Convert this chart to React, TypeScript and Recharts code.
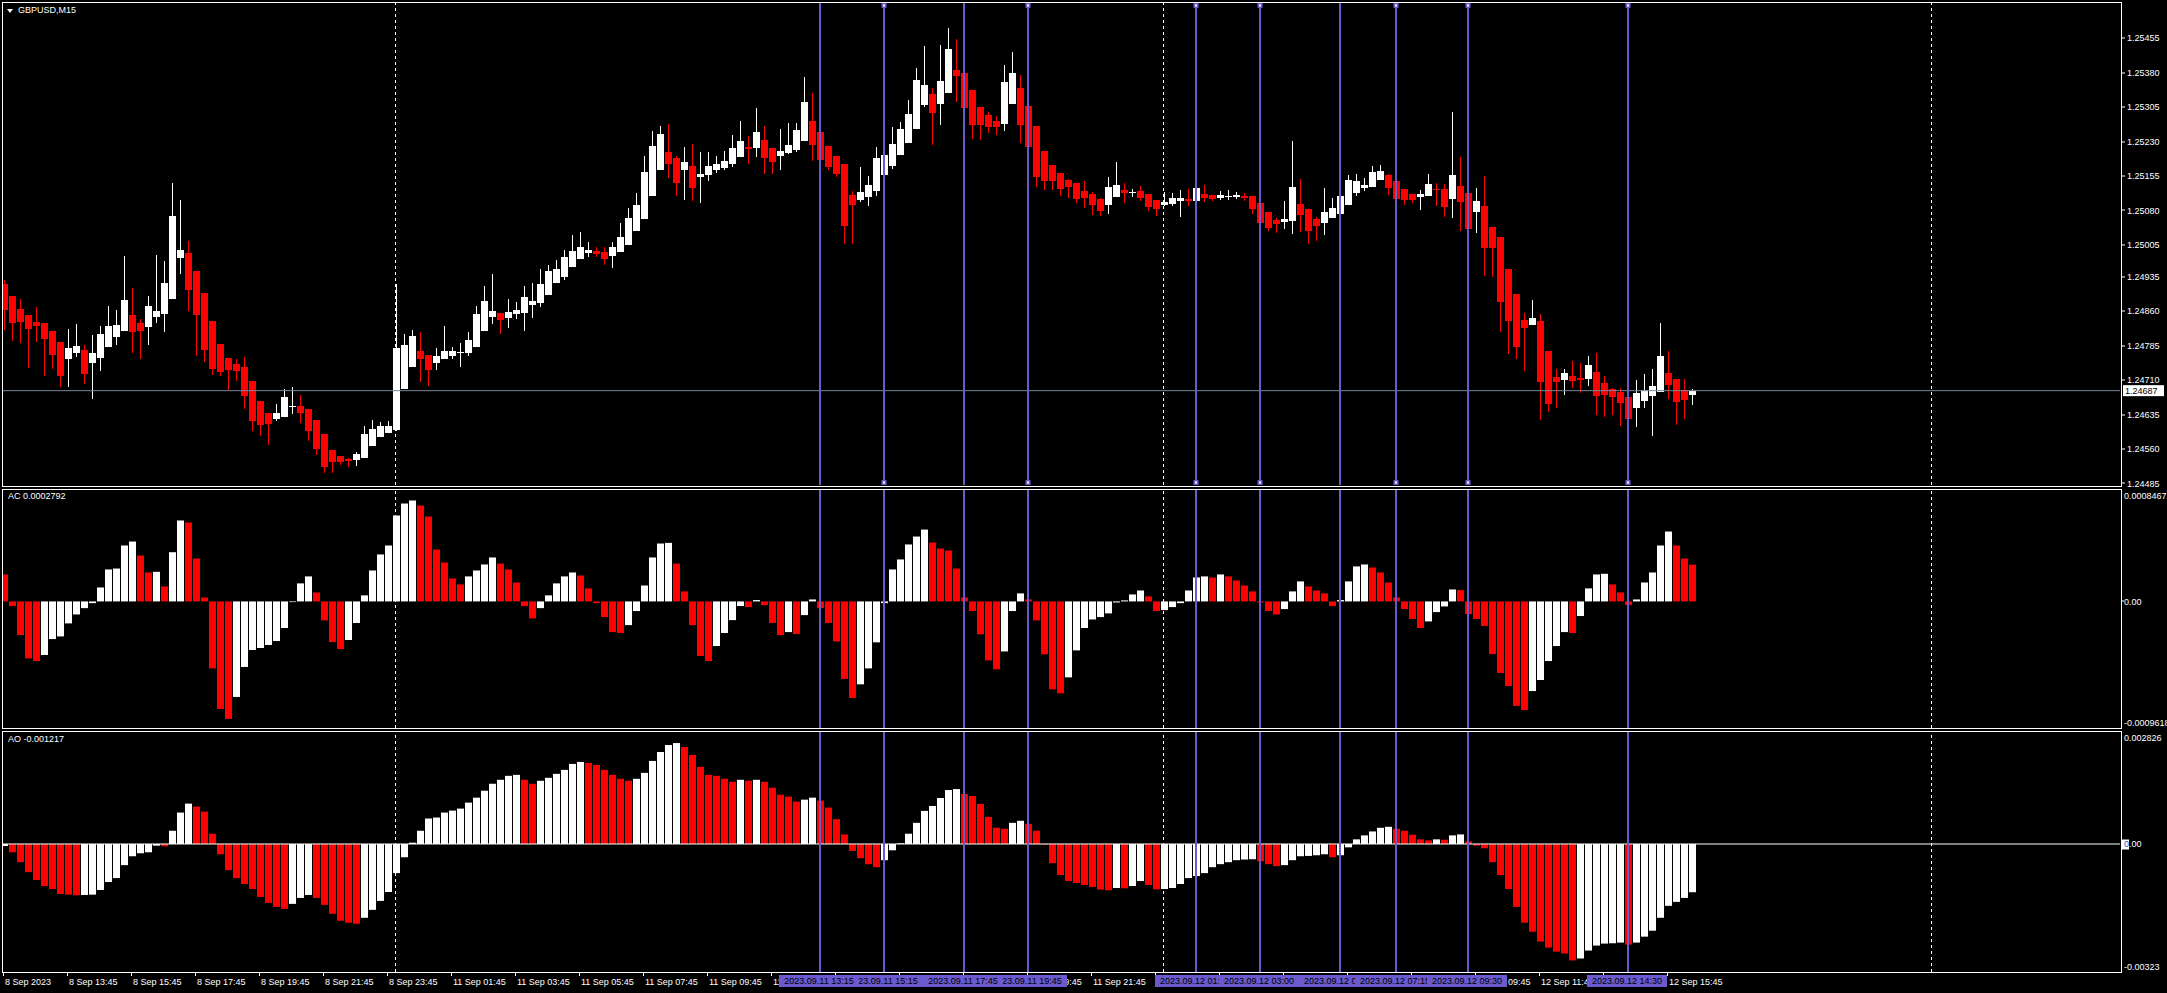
import React from "react";
import { ComposedChart, Bar, XAxis, YAxis, ReferenceLine, Cell } from "recharts";

// ---------------- data ----------------
const OPEN = [
  1.24920, 1.24893, 1.24865, 1.24852, 1.24837, 1.24835, 1.24817, 1.24793, 1.24757, 1.24768,
  1.24776, 1.24748, 1.24759, 1.24783, 1.24805, 1.24817, 1.24852, 1.24835, 1.24826, 1.24848,
  1.24854, 1.24887, 1.24976, 1.24987, 1.24948, 1.24900, 1.24839, 1.24789, 1.24758, 1.24745,
  1.24739, 1.24708, 1.24665, 1.24638, 1.24626, 1.24630, 1.24652, 1.24654, 1.24647, 1.24623,
  1.24593, 1.24558, 1.24545, 1.24538, 1.24536, 1.24541, 1.24566, 1.24585, 1.24595, 1.24601,
  1.24691, 1.24739, 1.24774, 1.24765, 1.24748, 1.24755, 1.24763, 1.24769, 1.24768, 1.24783,
  1.24818, 1.24848, 1.24856, 1.24846, 1.24853, 1.24856, 1.24874, 1.24877, 1.24896, 1.24922,
  1.24935, 1.24957, 1.24973, 1.24986, 1.24991, 1.24989, 1.24981, 1.24990, 1.25005, 1.25034,
  1.25062, 1.25112, 1.25167, 1.25207, 1.25194, 1.25167, 1.25177, 1.25153, 1.25156, 1.25167,
  1.25173, 1.25180, 1.25197, 1.25217, 1.25215, 1.25233, 1.25216, 1.25199, 1.25204, 1.25212,
  1.25232, 1.25275, 1.25251, 1.25220, 1.25199, 1.25181, 1.25114, 1.25103, 1.25109, 1.25123,
  1.25157, 1.25177, 1.25201, 1.25227, 1.25257, 1.25310, 1.25334, 1.25312, 1.25336, 1.25386,
  1.25379, 1.25342, 1.25305, 1.25288, 1.25275, 1.25268, 1.25312, 1.25347, 1.25308, 1.25264,
  1.25209, 1.25179, 1.25161, 1.25146, 1.25140, 1.25122, 1.25116, 1.25105, 1.25092, 1.25109,
  1.25124, 1.25119, 1.25122, 1.25116, 1.25103, 1.25092, 1.25094, 1.25101, 1.25105, 1.25100,
  1.25116, 1.25114, 1.25107, 1.25110, 1.25109, 1.25111, 1.25111, 1.25096, 1.25076, 1.25059,
  1.25055, 1.25057, 1.25094, 1.25083, 1.25061, 1.25053, 1.25063, 1.25072, 1.25092, 1.25118,
  1.25129, 1.25131, 1.25146, 1.25157, 1.25144, 1.25127, 1.25116, 1.25109, 1.25111, 1.25127,
  1.25127, 1.25105, 1.25133, 1.25118, 1.25076, 1.25090, 1.25044, 1.25022, 1.24952, 1.24898,
  1.24841, 1.24830, 1.24839, 1.24774, 1.24717, 1.24710, 1.24719, 1.24715, 1.24712, 1.24728,
  1.24704, 1.24691, 1.24684, 1.24673, 1.24649, 1.24665, 1.24675, 1.24684, 1.24726, 1.24712,
  1.24689, 1.24678,
];
const HIGH = [
  1.24928, 1.24893, 1.24887, 1.24852, 1.24869, 1.24835, 1.24817, 1.24793, 1.24821, 1.24832,
  1.24787, 1.24808, 1.24828, 1.24872, 1.24863, 1.24981, 1.24911, 1.24843, 1.24893, 1.24983,
  1.24970, 1.25140, 1.25103, 1.25013, 1.24948, 1.24900, 1.24839, 1.24789, 1.24758, 1.24756,
  1.24760, 1.24708, 1.24665, 1.24638, 1.24658, 1.24691, 1.24695, 1.24678, 1.24647, 1.24623,
  1.24593, 1.24558, 1.24545, 1.24540, 1.24553, 1.24610, 1.24623, 1.24619, 1.24621, 1.24920,
  1.24811, 1.24819, 1.24815, 1.24765, 1.24780, 1.24828, 1.24782, 1.24791, 1.24815, 1.24872,
  1.24915, 1.24941, 1.24856, 1.24887, 1.24880, 1.24915, 1.24922, 1.24952, 1.24961, 1.24972,
  1.24994, 1.25026, 1.25033, 1.25011, 1.25000, 1.25000, 1.25011, 1.25053, 1.25085, 1.25118,
  1.25199, 1.25253, 1.25264, 1.25268, 1.25199, 1.25218, 1.25225, 1.25207, 1.25207, 1.25199,
  1.25209, 1.25244, 1.25275, 1.25242, 1.25303, 1.25264, 1.25216, 1.25257, 1.25270, 1.25270,
  1.25371, 1.25336, 1.25251, 1.25220, 1.25199, 1.25181, 1.25123, 1.25175, 1.25155, 1.25218,
  1.25215, 1.25262, 1.25273, 1.25321, 1.25390, 1.25438, 1.25347, 1.25440, 1.25478, 1.25453,
  1.25379, 1.25342, 1.25305, 1.25294, 1.25286, 1.25397, 1.25425, 1.25375, 1.25308, 1.25264,
  1.25209, 1.25179, 1.25161, 1.25148, 1.25140, 1.25144, 1.25120, 1.25107, 1.25153, 1.25185,
  1.25140, 1.25127, 1.25133, 1.25116, 1.25103, 1.25120, 1.25118, 1.25124, 1.25127, 1.25135,
  1.25135, 1.25114, 1.25122, 1.25124, 1.25120, 1.25118, 1.25111, 1.25096, 1.25076, 1.25063,
  1.25100, 1.25231, 1.25148, 1.25083, 1.25066, 1.25129, 1.25107, 1.25118, 1.25157, 1.25159,
  1.25151, 1.25177, 1.25179, 1.25159, 1.25144, 1.25127, 1.25116, 1.25124, 1.25159, 1.25140,
  1.25137, 1.25294, 1.25196, 1.25118, 1.25129, 1.25155, 1.25044, 1.25022, 1.24952, 1.24898,
  1.24856, 1.24885, 1.24854, 1.24774, 1.24734, 1.24734, 1.24752, 1.24747, 1.24763, 1.24769,
  1.24719, 1.24693, 1.24693, 1.24673, 1.24710, 1.24723, 1.24734, 1.24835, 1.24774, 1.24712,
  1.24712, 1.24691,
];
const LOW = [
  1.24819, 1.24796, 1.24790, 1.24737, 1.24794, 1.24718, 1.24735, 1.24694, 1.24694, 1.24761,
  1.24701, 1.24668, 1.24729, 1.24783, 1.24787, 1.24817, 1.24770, 1.24755, 1.24787, 1.24834,
  1.24815, 1.24887, 1.24941, 1.24861, 1.24763, 1.24750, 1.24722, 1.24718, 1.24689, 1.24707,
  1.24647, 1.24600, 1.24589, 1.24569, 1.24621, 1.24630, 1.24637, 1.24617, 1.24578, 1.24547,
  1.24508, 1.24508, 1.24524, 1.24521, 1.24523, 1.24541, 1.24566, 1.24585, 1.24595, 1.24600,
  1.24691, 1.24739, 1.24705, 1.24698, 1.24731, 1.24755, 1.24755, 1.24739, 1.24763, 1.24783,
  1.24818, 1.24832, 1.24811, 1.24824, 1.24844, 1.24818, 1.24846, 1.24870, 1.24896, 1.24922,
  1.24929, 1.24957, 1.24973, 1.24979, 1.24979, 1.24960, 1.24955, 1.24990, 1.25005, 1.25034,
  1.25062, 1.25112, 1.25167, 1.25151, 1.25112, 1.25103, 1.25101, 1.25097, 1.25145, 1.25162,
  1.25167, 1.25175, 1.25197, 1.25182, 1.25197, 1.25160, 1.25160, 1.25169, 1.25202, 1.25208,
  1.25232, 1.25188, 1.25185, 1.25167, 1.25153, 1.25007, 1.25006, 1.25099, 1.25090, 1.25112,
  1.25157, 1.25171, 1.25201, 1.25227, 1.25257, 1.25305, 1.25223, 1.25266, 1.25336, 1.25316,
  1.25284, 1.25236, 1.25233, 1.25249, 1.25244, 1.25253, 1.25312, 1.25227, 1.25212, 1.25131,
  1.25124, 1.25124, 1.25111, 1.25107, 1.25095, 1.25086, 1.25070, 1.25068, 1.25073, 1.25109,
  1.25096, 1.25109, 1.25100, 1.25079, 1.25068, 1.25090, 1.25090, 1.25066, 1.25090, 1.25100,
  1.25099, 1.25101, 1.25103, 1.25103, 1.25105, 1.25100, 1.25073, 1.25048, 1.25035, 1.25031,
  1.25039, 1.25029, 1.25033, 1.25007, 1.25013, 1.25026, 1.25063, 1.25072, 1.25092, 1.25111,
  1.25122, 1.25131, 1.25146, 1.25114, 1.25103, 1.25092, 1.25096, 1.25081, 1.25111, 1.25090,
  1.25066, 1.25063, 1.25035, 1.25035, 1.25031, 1.24937, 1.24935, 1.24815, 1.24767, 1.24756,
  1.24730, 1.24830, 1.24623, 1.24641, 1.24649, 1.24678, 1.24693, 1.24683, 1.24697, 1.24634,
  1.24630, 1.24634, 1.24610, 1.24621, 1.24608, 1.24649, 1.24588, 1.24684, 1.24669, 1.24612,
  1.24625, 1.24656,
];
const CLOSE = [
  1.24863, 1.24835, 1.24837, 1.24821, 1.24828, 1.24800, 1.24765, 1.24720, 1.24780, 1.24784,
  1.24724, 1.24769, 1.24811, 1.24828, 1.24830, 1.24885, 1.24815, 1.24817, 1.24872, 1.24861,
  1.24922, 1.25068, 1.24994, 1.24906, 1.24852, 1.24776, 1.24734, 1.24728, 1.24731, 1.24729,
  1.24676, 1.24621, 1.24613, 1.24615, 1.24638, 1.24673, 1.24654, 1.24638, 1.24599, 1.24560,
  1.24521, 1.24532, 1.24532, 1.24534, 1.24549, 1.24593, 1.24603, 1.24610, 1.24610, 1.24780,
  1.24787, 1.24806, 1.24755, 1.24733, 1.24763, 1.24774, 1.24774, 1.24772, 1.24797, 1.24854,
  1.24882, 1.24861, 1.24840, 1.24859, 1.24863, 1.24891, 1.24882, 1.24920, 1.24948, 1.24952,
  1.24978, 1.24991, 1.25000, 1.24994, 1.24985, 1.24973, 1.25000, 1.25022, 1.25063, 1.25092,
  1.25164, 1.25220, 1.25246, 1.25182, 1.25140, 1.25185, 1.25129, 1.25160, 1.25177, 1.25181,
  1.25188, 1.25216, 1.25231, 1.25214, 1.25251, 1.25195, 1.25186, 1.25209, 1.25223, 1.25255,
  1.25316, 1.25223, 1.25190, 1.25175, 1.25160, 1.25045, 1.25092, 1.25119, 1.25135, 1.25194,
  1.25201, 1.25225, 1.25257, 1.25290, 1.25364, 1.25353, 1.25292, 1.25362, 1.25432, 1.25373,
  1.25303, 1.25266, 1.25266, 1.25262, 1.25262, 1.25360, 1.25379, 1.25266, 1.25218, 1.25153,
  1.25144, 1.25144, 1.25127, 1.25131, 1.25105, 1.25107, 1.25092, 1.25079, 1.25131, 1.25135,
  1.25118, 1.25121, 1.25107, 1.25087, 1.25083, 1.25098, 1.25107, 1.25107, 1.25100, 1.25129,
  1.25107, 1.25105, 1.25114, 1.25111, 1.25114, 1.25107, 1.25082, 1.25053, 1.25042, 1.25050,
  1.25061, 1.25131, 1.25070, 1.25035, 1.25046, 1.25076, 1.25085, 1.25111, 1.25146, 1.25144,
  1.25135, 1.25164, 1.25166, 1.25129, 1.25105, 1.25103, 1.25103, 1.25116, 1.25137, 1.25124,
  1.25087, 1.25157, 1.25098, 1.25039, 1.25100, 1.24998, 1.24998, 1.24880, 1.24839, 1.24782,
  1.24824, 1.24845, 1.24706, 1.24658, 1.24706, 1.24726, 1.24708, 1.24711, 1.24743, 1.24675,
  1.24678, 1.24673, 1.24660, 1.24625, 1.24682, 1.24689, 1.24697, 1.24763, 1.24699, 1.24662,
  1.24667, 1.24687,
];
const AC = [
  0.000205, -0.000035, -0.000256, -0.000433, -0.000453, -0.000407, -0.000286, -0.000266, -0.000167, -0.000099,
  -0.000051, -0.000013, 0.000106, 0.000243, 0.00025, 0.000425, 0.000455, 0.000349, 0.00022, 0.000225,
  0.000114, 0.000374, 0.000615, 0.0006, 0.000326, 0.00003, -0.000509, -0.000817, -0.000893, -0.000726,
  -0.000498, -0.000369, -0.000354, -0.000331, -0.000301, -0.000202, -0.000005, 0.000137, 0.00019, 0.000068,
  -0.000144, -0.000309, -0.000362, -0.000293, -0.000164, 0.000046, 0.000235, 0.000357, 0.000425, 0.000653,
  0.000744, 0.000767, 0.000729, 0.000645, 0.000395, 0.000296, 0.000175, 0.000129, 0.00019, 0.000235,
  0.000281, 0.000334, 0.000288, 0.000243, 0.000144, -0.000035, -0.000129, -0.000051, 0.000046, 0.000137,
  0.00019, 0.00022, 0.000197, 0.000099, -0.000013, -0.000119, -0.000233, -0.00024, -0.00018, -0.000073,
  0.000121, 0.000334, 0.00044, 0.000445, 0.000288, 0.000076, -0.00018, -0.000415, -0.000453, -0.000339,
  -0.00024, -0.000142, -0.000035, -0.000043, 0.00001, -0.000028, -0.000164, -0.000256, -0.000233, -0.000248,
  -0.000104, 0.000015, -0.000051, -0.000164, -0.000304, -0.000589, -0.000734, -0.00063, -0.000509, -0.000311,
  -0.000013, 0.000243, 0.000319, 0.000433, 0.000493, 0.000546, 0.000448, 0.000402, 0.000387, 0.00025,
  0.00003, -0.000073, -0.00025, -0.000448, -0.000516, -0.00038, -0.000073, 0.000061, 0.000015, -0.000144,
  -0.000402, -0.000668, -0.000698, -0.000577, -0.000372, -0.000202, -0.000137, -0.000119, -0.000091, -0.000008,
  0.000008, 0.000053, 0.000083, 0.000038, -0.000073, -0.000066, -0.000043, -0.000013, 0.000083, 0.000182,
  0.00019, 0.000182, 0.000205, 0.00019, 0.000159, 0.000121, 0.000076, -0.000008, -0.000073, -0.000099,
  -0.000058, 0.000076, 0.000152, 0.000114, 0.000083, 0.000061, -0.000035, 0.00001, 0.000152, 0.000266,
  0.000281, 0.000258, 0.00022, 0.000144, 0.00003, -0.000058, -0.000134, -0.000202, -0.000152, -0.000081,
  -0.000038, 0.000091, 0.000086, -0.000096, -0.000134, -0.000187, -0.0004, -0.000544, -0.000643, -0.000794,
  -0.000825, -0.000681, -0.000597, -0.000453, -0.000339, -0.000233, -0.00024, -0.000111, 0.000099, 0.000205,
  0.00021, 0.000129, 0.000068, -0.000028, 0.000015, 0.000144, 0.00022, 0.000425, 0.000531, 0.000425,
  0.000326, 0.0002792,
];
const AO = [
  -0.00005, -0.000209, -0.000459, -0.00071, -0.00091, -0.00106, -0.001136, -0.001261, -0.001278, -0.001294,
  -0.001286, -0.001278, -0.001161, -0.00096, -0.00086, -0.000534, -0.000309, -0.000234, -0.000209, -0.000042,
  -0.000058, 0.000334, 0.000793, 0.001019, 0.000944, 0.000818, 0.000259, -0.000259, -0.00066, -0.00086,
  -0.00101, -0.001136, -0.001336, -0.001486, -0.001587, -0.001637, -0.001511, -0.001361, -0.001286, -0.001361,
  -0.001536, -0.001762, -0.001937, -0.001987, -0.002012, -0.001862, -0.001662, -0.001436, -0.001211, -0.000735,
  -0.000334, 0.000033, 0.000334, 0.000643, 0.000668, 0.000793, 0.000843, 0.000893, 0.001044, 0.001169,
  0.001344, 0.00152, 0.00162, 0.00172, 0.001745, 0.00162, 0.00152, 0.001595, 0.00167, 0.00177,
  0.00187, 0.002021, 0.002071, 0.002046, 0.001996, 0.00187, 0.001745, 0.001645, 0.001595, 0.001645,
  0.001795, 0.002096, 0.002321, 0.002497, 0.002547, 0.002447, 0.002246, 0.001946, 0.001745, 0.00172,
  0.001645, 0.00157, 0.00162, 0.001595, 0.00162, 0.00157, 0.00142, 0.001244, 0.001194, 0.001069,
  0.001119, 0.001169, 0.001094, 0.000919, 0.000626, 0.000242, -0.000175, -0.000359, -0.000509, -0.000585,
  -0.000409, -0.000159, 0.000017, 0.000259, 0.000534, 0.000835, 0.00096, 0.001161, 0.001361, 0.001386,
  0.001261, 0.001211, 0.00101, 0.000685, 0.000409, 0.000384, 0.000534, 0.000585, 0.000509, 0.000334,
  -0.000017, -0.000484, -0.000785, -0.000935, -0.000985, -0.001035, -0.001086, -0.001152, -0.001169, -0.001111,
  -0.001119, -0.00106, -0.000935, -0.001035, -0.001144, -0.001136, -0.001111, -0.00101, -0.00086, -0.00081,
  -0.000735, -0.000585, -0.000509, -0.000459, -0.000409, -0.000392, -0.000384, -0.000434, -0.000509, -0.000559,
  -0.000534, -0.000409, -0.000309, -0.000301, -0.000284, -0.000259, -0.000334, -0.000284, -0.000084, 0.000117,
  0.000217, 0.000317, 0.000409, 0.000434, 0.000384, 0.000334, 0.000234, 0.000117, 0.000092, 0.000117,
  0.000109, 0.000217, 0.000242, 0.000067, -0.000042, -0.000109, -0.000459, -0.000785, -0.001136, -0.001587,
  -0.001987, -0.002213, -0.002463, -0.002614, -0.002714, -0.002764, -0.002939, -0.002889, -0.002689, -0.002563,
  -0.002513, -0.002505, -0.002488, -0.002538, -0.002488, -0.002338, -0.002188, -0.001862, -0.001561, -0.001461,
  -0.001361, -0.001217,
];
const AC_FIRST_UP = false;
const AO_FIRST_UP = true;

const SLOTS = 265; // visible bar slots incl. empty shift on the right
const PRICE_DOMAIN = [1.244814, 1.255319];
const PRICE_TICKS = [1.25455, 1.2538, 1.25305, 1.2523, 1.25155, 1.2508, 1.25005, 1.24935, 1.2486, 1.24785, 1.2471, 1.24635, 1.2456, 1.24485];
const LAST_PRICE = 1.24687;
const AC_DOMAIN = [-0.0009618, 0.0008467];
const AC_TICKS = [0.0008467, 0, -0.0009618];
const AC_TICK_TEXT = ["0.0008467", "0.00", "-0.0009618"];
const AO_DOMAIN = [-0.00323, 0.002826];
const AO_TICKS = [0.002826, 0, -0.00323];
const AO_TICK_TEXT = ["0.002826", "0.00", "-0.00323"];

const TIME_TICKS = [0, 8, 16, 24, 32, 40, 48, 56, 64, 72, 80, 88, 96, 104, 112, 120, 128, 136, 144, 152, 160, 168, 176, 184, 192, 200, 208];
const TIME_TEXT = [
  "8 Sep 2023", "8 Sep 13:45", "8 Sep 15:45", "8 Sep 17:45", "8 Sep 19:45", "8 Sep 21:45", "8 Sep 23:45",
  "11 Sep 01:45", "11 Sep 03:45", "11 Sep 05:45", "11 Sep 07:45", "11 Sep 09:45", "11 Sep 11:45", "11 Sep 13:45",
  "11 Sep 15:45", "11 Sep 17:45", "11 Sep 19:45", "11 Sep 21:45", "11 Sep 23:45", "12 Sep 01:45", "12 Sep 03:45",
  "12 Sep 05:45", "12 Sep 07:45", "12 Sep 09:45", "12 Sep 11:45", "12 Sep 13:45", "12 Sep 15:45",
];
const SEPARATORS = [49, 145, 241];
const VLINES = [102, 110, 120, 128, 149, 157, 167, 174, 183, 203];
const VLINE_TEXT = [
  "2023.09.11 13:15", "2023.09.11 15:15", "2023.09.11 17:45", "2023.09.11 19:45", "2023.09.12 01:00",
  "2023.09.12 03:00", "2023.09.12 05:30", "2023.09.12 07:15", "2023.09.12 09:30", "2023.09.12 14:30",
];
const VLINE_SELECTED = [110, 128, 149, 157, 174, 183, 203];
// order the time-scale labels are stacked in (last drawn is on top)
const VLINE_DRAW_ORDER = [110, 102, 128, 120, 149, 157, 167, 174, 183, 203];

// ---------------- styling ----------------
const W = 2167;
const FONT = "'Liberation Sans', Arial, sans-serif";
const RED = "#ff0000";
const WHITE = "#ffffff";
const VCOL = "#6a5acd";
const FS = 9;

function dirColors(vals: number[], firstUp: boolean): string[] {
  const out: string[] = [];
  let up = firstUp;
  vals.forEach((v, i) => {
    if (i > 0) {
      if (v > vals[i - 1]) up = true;
      else if (v < vals[i - 1]) up = false;
    }
    out.push(up ? WHITE : RED);
  });
  return out;
}
const AC_COLORS = dirColors(AC, AC_FIRST_UP);
const AO_COLORS = dirColors(AO, AO_FIRST_UP);

const rows = Array.from({ length: SLOTS }, (_, i) =>
  i < OPEN.length
    ? { i, range: [LOW[i], HIGH[i]], open: OPEN[i], high: HIGH[i], low: LOW[i], close: CLOSE[i], ac: AC[i], ao: AO[i] }
    : { i }
);

const Candle = (p: any) => {
  const { x, y, width, height, payload } = p;
  if (!payload || payload.open == null || x == null || y == null) return null;
  const { open, close, high, low } = payload;
  const k = high > low ? height / (high - low) : 0;
  const yOf = (v: number) => y + (high - v) * k;
  const col = close >= open ? WHITE : RED;
  const bx = Math.round(x);
  const top = Math.round(yOf(Math.max(open, close)));
  const bot = Math.round(yOf(Math.min(open, close)));
  const wt = Math.round(yOf(high));
  const wb = Math.round(yOf(low));
  const bw = Math.round(width);
  return (
    <g>
      <rect x={bx + Math.floor(bw / 2)} y={wt} width={1} height={Math.max(1, wb - wt)} fill={col} />
      <rect x={bx} y={top} width={bw} height={Math.max(1, bot - top)} fill={col} />
    </g>
  );
};

const PriceTick = (p: any) => {
  const { x, y, payload } = p;
  const v = payload.value;
  if (v === LAST_PRICE) {
    return (
      <g>
        <rect x={x + 3} y={y - 5.5} width={41} height={11} fill={WHITE} />
        <text x={x + 5} y={y + 3.2} fill="#000" fontSize={FS} fontFamily={FONT}>{v.toFixed(5)}</text>
      </g>
    );
  }
  return (
    <g>
      <rect x={x + 1} y={Math.round(y) - 0.5} width={4} height={1} fill={WHITE} />
      <text x={x + 7} y={y + 3.2} fill={WHITE} fontSize={FS} fontFamily={FONT}>{v.toFixed(5)}</text>
    </g>
  );
};

const makeIndTick = (ticks: number[], texts: string[], zeroBox: boolean) => (p: any) => {
  const { x, y, payload } = p;
  const idx = ticks.indexOf(payload.value);
  const txt = texts[idx];
  const dy = idx === 0 ? 6 : idx === ticks.length - 1 ? -5 : 0;
  if (idx === 1 && zeroBox) {
    return (
      <g>
        <rect x={x + 2} y={y - 4.5} width={7} height={10} fill={WHITE} />
        <text x={x + 4} y={y + 3.2} fontSize={FS} fontFamily={FONT}>
          <tspan fill="#3050c0">0</tspan>
          <tspan fill={WHITE}>.00</tspan>
        </text>
      </g>
    );
  }
  return (
    <g>
      {idx === 1 && <rect x={x + 1} y={Math.round(y) - 0.5} width={3} height={1} fill={WHITE} />}
      <text x={x + 4} y={y + dy + 3.2} fill={WHITE} fontSize={FS} fontFamily={FONT}>{txt}</text>
    </g>
  );
};
const AcTick = makeIndTick(AC_TICKS, AC_TICK_TEXT, false);
const AoTick = makeIndTick(AO_TICKS, AO_TICK_TEXT, true);

const TimeTick = (p: any) => {
  const { x, y, payload } = p;
  const txt = TIME_TEXT[TIME_TICKS.indexOf(payload.value)];
  return (
    <g>
      <rect x={x - 1} y={y} width={1} height={4} fill={WHITE} />
      <text x={x + 1} y={y + 13} fill={WHITE} fontSize={FS} fontFamily={FONT}>{txt}</text>
    </g>
  );
};

const SepShape = (p: any) => (
  <line x1={p.x1 - 0.5} x2={p.x2 - 0.5} y1={p.y1} y2={p.y2} stroke={WHITE} strokeWidth={1} strokeDasharray="3 3" />
);

const Marker = (p: any) => {
  const vb = p.viewBox;
  if (!vb) return null;
  const cx = vb.x;
  const top = vb.y;
  const bottom = vb.y + vb.height;
  return (
    <g>
      <rect x={cx - 2.5} y={top} width={5} height={5} fill={VCOL} />
      <rect x={cx - 1} y={top + 1.5} width={2} height={2} fill={WHITE} />
      <rect x={cx - 2.5} y={bottom - 5} width={5} height={5} fill={VCOL} />
      <rect x={cx - 1} y={bottom - 3.5} width={2} height={2} fill={WHITE} />
    </g>
  );
};

const VBox = (p: any) => {
  const vb = p.viewBox;
  if (!vb) return null;
  const cx = vb.x;
  const y0 = vb.y + vb.height + 3;
  return (
    <g>
      <rect x={cx - 41} y={y0} width={80} height={12} fill={VCOL} />
      <text x={cx - 1} y={y0 + 9.3} textAnchor="middle" fill="#000" fontSize={FS} fontFamily={FONT}>{p.text}</text>
    </g>
  );
};

const Panel = ({ top, height }: { top: number; height: number }) => (
  <div style={{ position: "absolute", left: 2, top, width: 2120, height, border: "1px solid #fff", boxSizing: "border-box", pointerEvents: "none" }} />
);

const Label = ({ left, top, children }: any) => (
  <div style={{ position: "absolute", left, top, fontSize: FS, lineHeight: "11px", color: "#fff", fontFamily: FONT, whiteSpace: "nowrap" }}>{children}</div>
);

const Clip = ({ top, height, children }: any) => (
  <div style={{ position: "absolute", left: 3, top, width: W - 3, height, overflow: "hidden" }}>
    <div style={{ position: "absolute", left: -3, top: 0 }}>{children}</div>
  </div>
);

export default function App() {
  return (
    <div style={{ position: "absolute", left: 0, top: 0, width: W, height: 993, background: "#000", overflow: "hidden", fontFamily: FONT }}>
      {/* main price chart */}
      <Clip top={0} height={488}>
        <ComposedChart width={W} height={488} data={rows} margin={{ top: 3, right: 0, bottom: 3, left: 0 }}>
          <XAxis dataKey="i" type="category" hide />
          <YAxis
            orientation="right" width={47} domain={PRICE_DOMAIN} allowDataOverflow type="number"
            ticks={[...PRICE_TICKS, LAST_PRICE]} interval={0} tick={<PriceTick />}
            tickLine={false} axisLine={false} tickSize={0} tickMargin={0}
          />
          {SEPARATORS.map((s) => (
            <ReferenceLine key={"s" + s} x={s} shape={SepShape} />
          ))}
          <ReferenceLine y={LAST_PRICE} stroke="#778899" strokeWidth={1} />
          <Bar dataKey="range" barSize={7} isAnimationActive={false} shape={Candle} />
          {VLINES.map((v) => (
            <ReferenceLine
              key={"v" + v} x={v} stroke={VCOL} strokeWidth={2}
              label={VLINE_SELECTED.includes(v) ? <Marker /> : undefined}
            />
          ))}
        </ComposedChart>
      </Clip>

      {/* AC */}
      <Clip top={489} height={240}>
        <ComposedChart width={W} height={240} data={rows} margin={{ top: 1, right: 0, bottom: 1, left: 0 }}>
          <XAxis dataKey="i" type="category" hide />
          <YAxis
            orientation="right" width={47} domain={AC_DOMAIN} allowDataOverflow type="number"
            ticks={AC_TICKS} interval={0} tick={<AcTick />}
            tickLine={false} axisLine={false} tickSize={0} tickMargin={0}
          />
          {SEPARATORS.map((s) => (
            <ReferenceLine key={"s" + s} x={s} shape={SepShape} />
          ))}
          <Bar dataKey="ac" barSize={7} isAnimationActive={false}>
            {rows.map((_, i) => (
              <Cell key={i} fill={AC_COLORS[i] || "transparent"} />
            ))}
          </Bar>
          {VLINES.map((v) => (
            <ReferenceLine key={"v" + v} x={v} stroke={VCOL} strokeWidth={2} />
          ))}
        </ComposedChart>
      </Clip>

      {/* time axis (underneath the AO chart so the line labels cover it) */}
      <Clip top={963} height={30}>
        <ComposedChart width={W} height={30} data={rows} margin={{ top: 0, right: 47, bottom: 0, left: 0 }}>
          <XAxis
            dataKey="i" type="category" scale="band" height={21} ticks={TIME_TICKS} interval={0}
            tick={<TimeTick />} tickLine={false} axisLine={false} tickSize={0} tickMargin={0}
          />
          <Bar dataKey="ac" barSize={7} isAnimationActive={false} fill="transparent" />
        </ComposedChart>
      </Clip>

      {/* AO */}
      <Clip top={731} height={262}>
        <ComposedChart width={W} height={262} data={rows} margin={{ top: 1, right: 0, bottom: 21, left: 0 }}>
          <XAxis dataKey="i" type="category" hide />
          <YAxis
            orientation="right" width={47} domain={AO_DOMAIN} allowDataOverflow type="number"
            ticks={AO_TICKS} interval={0} tick={<AoTick />}
            tickLine={false} axisLine={false} tickSize={0} tickMargin={0}
          />
          {SEPARATORS.map((s) => (
            <ReferenceLine key={"s" + s} x={s} shape={SepShape} />
          ))}
          <Bar dataKey="ao" barSize={7} isAnimationActive={false}>
            {rows.map((_, i) => (
              <Cell key={i} fill={AO_COLORS[i] || "transparent"} />
            ))}
          </Bar>
          <ReferenceLine y={0} stroke={WHITE} strokeWidth={1} />
          {VLINE_DRAW_ORDER.map((v) => (
            <ReferenceLine
              key={"v" + v} x={v} stroke={VCOL} strokeWidth={2}
              label={<VBox text={VLINE_TEXT[VLINES.indexOf(v)]} />}
            />
          ))}
        </ComposedChart>
      </Clip>

      <Panel top={2} height={485} />
      <Panel top={489} height={240} />
      <Panel top={731} height={242} />

      <div style={{ position: "absolute", left: 7, top: 9, width: 0, height: 0, borderLeft: "3px solid transparent", borderRight: "3px solid transparent", borderTop: "4px solid #fff" }} />
      <Label left={18} top={5}>GBPUSD,M15</Label>
      <Label left={8} top={491}>AC 0.0002792</Label>
      <Label left={8} top={734}>AO -0.001217</Label>
    </div>
  );
}
